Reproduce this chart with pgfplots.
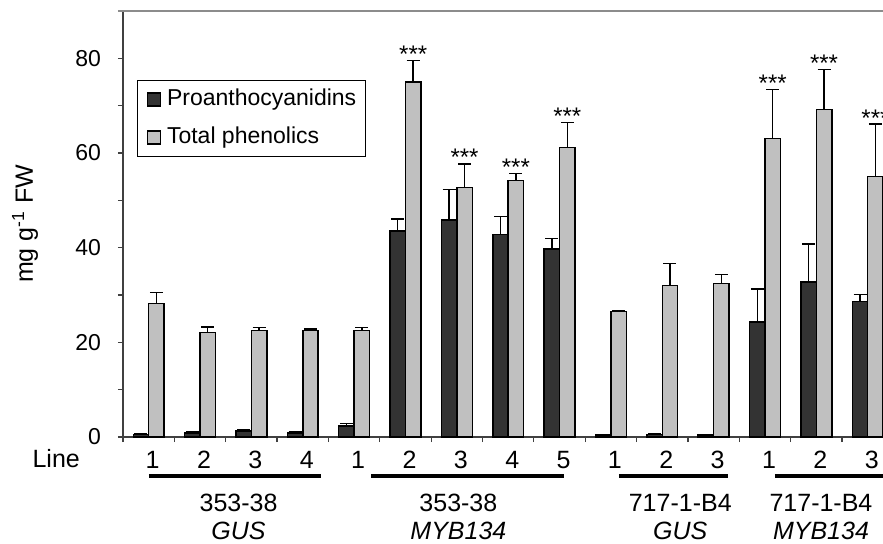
\documentclass[border=0pt]{standalone}
\usepackage{pgfplots}
\usepackage{pgfplotstable}
\pgfplotsset{compat=1.18}
\usepackage{fontspec}
\setmainfont{Liberation Sans}
\definecolor{darkbar}{HTML}{333333}
\definecolor{lightbar}{HTML}{C0C0C0}
\definecolor{spine}{HTML}{404040}
\definecolor{topline}{HTML}{8C8C8C}
\pgfplotsset{sqlegend/.style={legend image code/.code={\draw[##1] (0pt,-3.25pt) rectangle (6.5pt,3.25pt); \path (9.5pt,0pt);}}}

\pgfplotstableread{
x xd xg pa paerr tp tperr
0 -0.15 0.15 0.5 0.2 28.2 2.3
1 0.85 1.15 0.9 0.2 22.1 1.1
2 1.85 2.15 1.3 0.3 22.5 0.6
3 2.85 3.15 0.9 0.2 22.5 0.3
4 3.85 4.15 2.3 0.6 22.5 0.6
5 4.85 5.15 43.5 2.6 75.0 4.6
6 5.85 6.15 45.8 6.5 52.7 5.0
7 6.85 7.15 42.8 3.8 54.2 1.5
8 7.85 8.15 39.7 2.3 61.2 5.3
9 8.85 9.15 0.4 0.1 26.5 0.2
10 9.85 10.15 0.5 0.1 32.0 4.6
11 10.85 11.15 0.4 0.1 32.4 1.9
12 11.85 12.15 24.3 7.0 63.1 10.3
13 12.85 13.15 32.8 8.0 69.2 8.4
14 13.85 14.15 28.6 1.5 55.0 11.1
}\datatable

\begin{document}
\begin{tikzpicture}
\useasboundingbox (-61.5pt,-53pt) rectangle (380pt,218.5pt);
\clip (-61.5pt,-53pt) rectangle (380pt,218.5pt);
\begin{axis}[
  at={(0pt,0pt)}, anchor=south west,
  scale only axis, width=385.2pt, height=213pt,
  xmin=-0.5, xmax=14.5, ymin=0, ymax=90,
  clip=false,
  axis x line*=bottom, axis y line*=left,
  axis line style={spine, line width=0.75pt},
  tick align=outside,
  major tick length=2.5pt, minor tick length=2.5pt,
  tick style={spine, line width=0.6pt},
  xtick={-0.5,0.5,...,14.5},
  x tick label as interval,
  xticklabels={1,2,3,4,1,2,3,4,5,1,2,3,1,2,3},
  xticklabel style={font=\fontsize{12.5}{14}\selectfont, anchor=base, yshift=-13pt, xshift=2pt},
  ytick={0,20,...,80}, minor ytick={10,30,50,70},
  yticklabel style={font=\fontsize{11.5}{13}\selectfont, anchor=east, xshift=-5pt},
  /pgf/number format/assume math mode=true,
  ylabel={mg g\textsuperscript{-1} FW},
  ylabel style={at={(axis description cs:-0.127,0.5)}, anchor=center, font=\fontsize{12.5}{14}\selectfont},
  legend style={at={(axis description cs:0.0182,0.838)}, anchor=north west,
    draw=black, line width=0.5pt, fill=white,
    font=\fontsize{11.5}{13}\selectfont,
    inner xsep=4.5pt, inner ysep=4pt, row sep=8pt,
    nodes={inner xsep=0pt, inner ysep=0pt, text height=8.5pt, text depth=2.5pt},
    legend cell align=left},
]
\addplot[ybar, bar width=0.3, bar shift=0pt, fill=darkbar, draw=black, line width=0.75pt, sqlegend]
  table[x=xd, y=pa] {\datatable};
\addlegendentry{Proanthocyanidins}
\addplot[ybar, bar width=0.3, bar shift=0pt, fill=lightbar, draw=black, line width=0.75pt, sqlegend]
  table[x=xg, y=tp] {\datatable};
\addlegendentry{Total phenolics}
% error bars (upper only)
\addplot[draw=none, mark=none, forget plot,
  error bars/.cd, y dir=plus, y explicit,
  error bar style={draw=black, line width=0.7pt},
  error mark options={rotate=90, draw=black, line width=0.7pt, mark size=3.25pt}]
  table[x=xd, y=pa, y error=paerr] {\datatable};
\addplot[draw=none, mark=none, forget plot,
  error bars/.cd, y dir=plus, y explicit,
  error bar style={draw=black, line width=0.7pt},
  error mark options={rotate=90, draw=black, line width=0.7pt, mark size=3.25pt}]
  table[x=xg, y=tp, y error=tperr] {\datatable};
% significance marks
\addplot[draw=none, mark=none, forget plot,
  nodes near coords={***},
  nodes near coords style={anchor=base, yshift=-1pt, font=\fontsize{12}{14}\selectfont, inner sep=0pt}]
  coordinates {(5.15,79.6) (6.15,57.7) (7.15,55.7) (8.15,66.5) (12.15,73.4) (13.15,77.6) (14.15,66.1)};
\draw[topline, line width=0.75pt] ([xshift=-2.5pt]rel axis cs:0,1) -- (rel axis cs:1,1);
% group underlines
\draw[black, line width=1.6pt] ([yshift=-19.5pt]axis cs:0.006,0) -- ([yshift=-19.5pt]axis cs:3.355,0);
\draw[black, line width=1.6pt] ([yshift=-19.5pt]axis cs:4.329,0) -- ([yshift=-19.5pt]axis cs:8.087,0);
\draw[black, line width=1.6pt] ([yshift=-19.5pt]axis cs:9.157,0) -- ([yshift=-19.5pt]axis cs:11.279,0);
\draw[black, line width=1.6pt] ([yshift=-19.5pt]axis cs:12.194,0) -- ([yshift=-19.5pt]axis cs:15,0);
% labels
\begin{scope}[every node/.style={font=\fontsize{12.5}{14}\selectfont, anchor=base, inner sep=0pt}]
\node at ([yshift=-15pt]axis cs:-1.80,0) {Line};
\node at ([yshift=-37pt]axis cs:1.75,0) {353-38};
\node at ([yshift=-51.3pt]axis cs:1.75,0) {\itshape GUS};
\node at ([yshift=-37pt]axis cs:6.03,0) {353-38};
\node at ([yshift=-51.3pt]axis cs:6.03,0) {\itshape MYB134};
\node at ([yshift=-37pt]axis cs:10.35,0) {717-1-B4};
\node at ([yshift=-51.3pt]axis cs:10.35,0) {\itshape GUS};
\node at ([yshift=-37pt]axis cs:13.09,0) {717-1-B4};
\node at ([yshift=-51.3pt]axis cs:13.09,0) {\itshape MYB134};
\end{scope}
\end{axis}
\end{tikzpicture}
\end{document}
